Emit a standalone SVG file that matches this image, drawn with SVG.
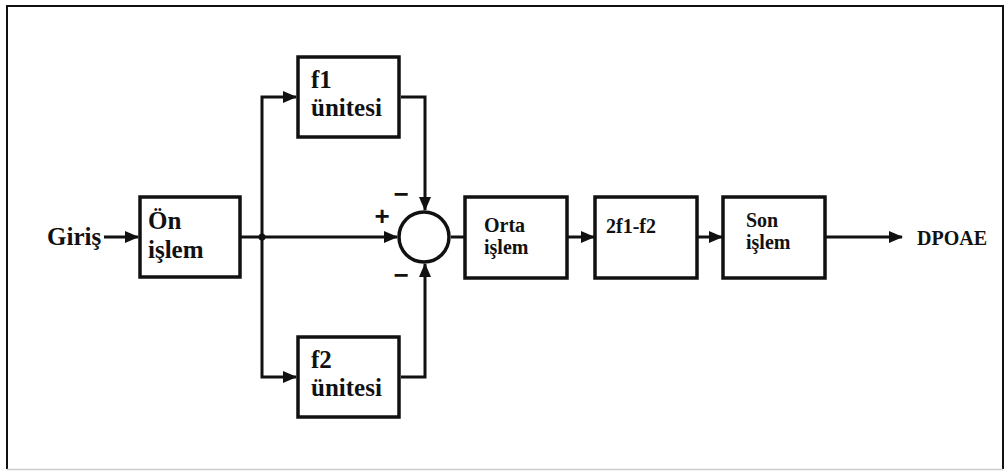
<svg xmlns="http://www.w3.org/2000/svg" width="1006" height="471" viewBox="0 0 1006 471">
<style>
.box{fill:#fff;stroke:#111;stroke-width:3.5}
.ln{fill:none;stroke:#111;stroke-width:3}
text.t{font-family:'Liberation Serif','DejaVu Serif',serif;font-weight:bold;fill:#111}
text.big{font-size:25px}
text.sm{font-size:20px}
text.sg{font-family:'Liberation Sans',sans-serif;font-weight:bold;font-size:26px;fill:#111}
</style>
<defs>
<marker id="ah" markerUnits="userSpaceOnUse" markerWidth="14" markerHeight="12" refX="13" refY="6" orient="auto">
<path d="M0,0 L14,6 L0,12 Z" fill="#111"/>
</marker>
</defs>
<rect x="0" y="0" width="1006" height="471" fill="#fff"/>
<path d="M7,469 V6 H1003 V469" fill="none" stroke="#111" stroke-width="2"/>
<path d="M7,469.5 H1003" stroke="#ccc" stroke-width="1.5"/>

<g id="connectors">
<line class="ln" x1="104" y1="237" x2="138" y2="237" marker-end="url(#ah)"/>
<line class="ln" x1="241" y1="237" x2="397" y2="237" marker-end="url(#ah)"/>
<path class="ln" d="M262,237 V97 H296" marker-end="url(#ah)"/>
<path class="ln" d="M262,237 V377 H296" marker-end="url(#ah)"/>
<path class="ln" d="M401,97 H425 V210" marker-end="url(#ah)"/>
<path class="ln" d="M401,377 H425 V264" marker-end="url(#ah)"/>
<line class="ln" x1="451" y1="237" x2="464" y2="237"/>
<line class="ln" x1="568" y1="237" x2="594" y2="237" marker-end="url(#ah)"/>
<line class="ln" x1="698" y1="237" x2="722" y2="237" marker-end="url(#ah)"/>
<line class="ln" x1="826" y1="237" x2="902" y2="237" marker-end="url(#ah)"/>
<circle cx="262" cy="237" r="3.5" fill="#111"/>
</g>

<g id="giris"><text class="t big" font-family="Liberation Serif, serif" x="47" y="245">Giriş</text></g>
<g id="on-islem">
<rect class="box" x="140" y="197" width="100" height="80"/>
<text class="t big" font-family="Liberation Serif, serif" x="148" y="229">Ön</text>
<text class="t big" font-family="Liberation Serif, serif" x="148" y="258">işlem</text>
</g>
<g id="f1-unitesi">
<rect class="box" x="298" y="57" width="101" height="80"/>
<text class="t big" font-family="Liberation Serif, serif" x="311" y="88">f1</text>
<text class="t big" font-family="Liberation Serif, serif" x="311" y="116">ünitesi</text>
</g>
<g id="f2-unitesi">
<rect class="box" x="298" y="337" width="101" height="80"/>
<text class="t big" font-family="Liberation Serif, serif" x="311" y="368">f2</text>
<text class="t big" font-family="Liberation Serif, serif" x="311" y="396">ünitesi</text>
</g>
<g id="toplayici">
<circle cx="424" cy="237" r="25" fill="#fff" stroke="#111" stroke-width="3.5"/>
<text class="sg" x="382" y="225" text-anchor="middle">+</text>
<text class="sg" x="401" y="203" text-anchor="middle">−</text>
<text class="sg" x="401" y="284" text-anchor="middle">−</text>
</g>
<g id="orta-islem">
<rect class="box" x="465" y="197" width="102" height="81"/>
<text class="t sm" font-family="Liberation Serif, serif" x="484" y="232">Orta</text>
<text class="t sm" font-family="Liberation Serif, serif" x="484" y="254">işlem</text>
</g>
<g id="f1-f2">
<rect class="box" x="595" y="197" width="102" height="81"/>
<text class="t sm" font-family="Liberation Serif, serif" x="606" y="233">2f1-f2</text>
</g>
<g id="son-islem">
<rect class="box" x="723" y="197" width="102" height="81"/>
<text class="t sm" font-family="Liberation Serif, serif" x="746" y="227">Son</text>
<text class="t sm" font-family="Liberation Serif, serif" x="746" y="249">işlem</text>
</g>
<g id="dpoae"><text class="t sm" font-family="Liberation Serif, serif" x="917" y="245">DPOAE</text></g>
</svg>
